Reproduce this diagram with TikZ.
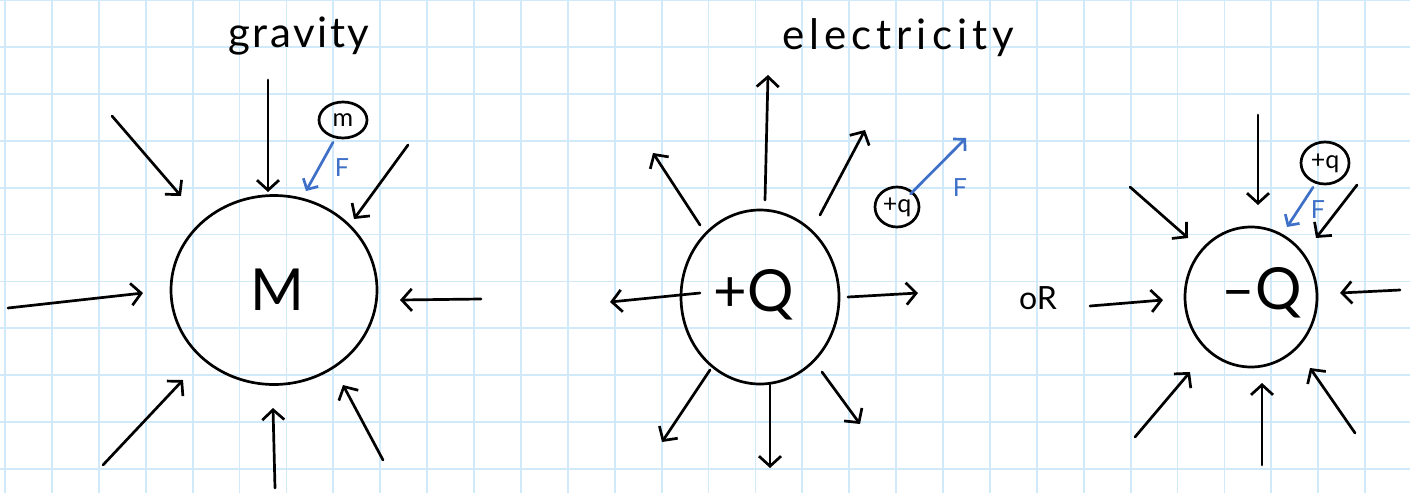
\documentclass[tikz,border=0pt]{standalone}
\usepackage{fontspec}
\setmainfont{Lato}
\usetikzlibrary{arrows.meta,shapes.geometric}
\definecolor{gridblue}{RGB}{208,234,250}
\definecolor{forceblue}{RGB}{62,112,200}
\tikzset{
  x=1pt, y=-1pt,
  ink/.style={line width=2.7pt, line cap=round, line join=round, black},
  fieldarrow/.style={ink, -{Straight Barb[length=10pt,width=22pt,line width=2.7pt]}},
  forcearrow/.style={line width=2.7pt, line cap=round, forceblue, -{Straight Barb[length=8pt,width=17pt,line width=2.7pt]}},
  bigbody/.style={ink, draw, ellipse, inner sep=0pt},
  smallbody/.style={ink, draw, ellipse, inner sep=0pt, font=\fontsize{25}{27}\selectfont},
  bodylabel/.style={font=\fontsize{58}{60}\selectfont},
  title/.style={inner sep=0pt},
  flabel/.style={text=forceblue, font=\fontsize{25}{27}\selectfont, inner sep=0pt}
}
\begin{document}
\begin{tikzpicture}
\useasboundingbox (0,0) rectangle (1410,493);
\fill[white] (0,0) rectangle (1410,493);
% grid
\foreach \i in {0,...,30} {\draw[gridblue, line width=1.8pt] ({5+46.9*\i},0) -- ({5+46.9*\i},493);}
\foreach \j in {0,...,10} {\draw[gridblue, line width=1.8pt] (0,{46.9*\j}) -- (1410,{46.9*\j});}

% ===== gravity =====
\node[title, font=\fontsize{42}{46}\selectfont\addfontfeatures{LetterSpace=6}] (tgrav) at (299,36) {gravity};
\node[bigbody, minimum width=206pt, minimum height=189pt] (M) at (274,290) {};
\node[bodylabel] (Mlab) at (277,290) {M};
\node[smallbody, minimum width=48pt, minimum height=36pt] (m) at (343,120) {m};
\coordinate (mF) at (306,191);
\draw[forcearrow] (m.south) ++(-10,3) coordinate (mS) -- (mF);
\node[flabel] (Fm) at (342,168) {F};

\coordinate (g1a) at (8,308);   \coordinate (g1b) at (143,293);
\coordinate (g2a) at (481,299); \coordinate (g2b) at (400,300);
\coordinate (g3a) at (268,80);  \coordinate (g3b) at (268,192);
\coordinate (g4a) at (112,116); \coordinate (g4b) at (181,196);
\coordinate (g5a) at (408,145); \coordinate (g5b) at (354,219);
\coordinate (g6a) at (103,465); \coordinate (g6b) at (183,380);
\coordinate (g7a) at (275,488); \coordinate (g7b) at (273,408);
\coordinate (g8a) at (383,460); \coordinate (g8b) at (343,385);
\foreach \k in {1,...,8} {\draw[fieldarrow] (g\k a) -- (g\k b);}

% ===== electricity =====
\node[title, font=\fontsize{42}{46}\selectfont\addfontfeatures{LetterSpace=12}] (telec) at (898,38) {electricity};
\node[bigbody, minimum width=158pt, minimum height=174pt] (Qp) at (760,297) {};
\node[bodylabel] (Qplab) at (754,295) {+Q};
\node[smallbody, minimum width=44pt, minimum height=40pt] (qp) at (897,207) {+q};
\coordinate (qpF) at (966,138);
\draw[forcearrow] (qp.north east) ++(-3,2) coordinate (qpS) -- (qpF);
\node[flabel] (Fqp) at (960,188) {F};

\coordinate (e1a) at (765,200); \coordinate (e1b) at (768,75);
\coordinate (e2a) at (700,225); \coordinate (e2b) at (653,153);
\coordinate (e3a) at (820,215); \coordinate (e3b) at (865,130);
\coordinate (e4a) at (700,293); \coordinate (e4b) at (610,302);
\coordinate (e5a) at (848,297); \coordinate (e5b) at (918,293);
\coordinate (e6a) at (710,370); \coordinate (e6b) at (662,442);
\coordinate (e7a) at (770,385); \coordinate (e7b) at (770,468);
\coordinate (e8a) at (822,372); \coordinate (e8b) at (860,424);
\foreach \k in {1,...,8} {\draw[fieldarrow] (e\k a) -- (e\k b);}

% ===== or: negative charge =====
\node[font=\fontsize{32}{34}\selectfont] (or) at (1038,298) {oR};
\node[bigbody, minimum width=132pt, minimum height=140pt] (Qn) at (1251,297) {};
\node[bodylabel] (Qnlab) at (1262,293) {–Q};
\node[smallbody, minimum width=48pt, minimum height=42pt] (qn) at (1325,163) {+q};
\coordinate (qnF) at (1287,227);
\draw[forcearrow] (qn.south) ++(-12,2) coordinate (qnS) -- (qnF);
\node[flabel] (Fqn) at (1318,210) {F};

\coordinate (n1a) at (1090,306); \coordinate (n1b) at (1163,300);
\coordinate (n2a) at (1400,290); \coordinate (n2b) at (1340,293);
\coordinate (n3a) at (1258,115); \coordinate (n3b) at (1258,205);
\coordinate (n4a) at (1130,187); \coordinate (n4b) at (1188,238);
\coordinate (n5a) at (1357,185); \coordinate (n5b) at (1316,238);
\coordinate (n6a) at (1135,437); \coordinate (n6b) at (1190,372);
\coordinate (n7a) at (1262,465); \coordinate (n7b) at (1262,383);
\coordinate (n8a) at (1355,433); \coordinate (n8b) at (1310,368);
\foreach \k in {1,...,8} {\draw[fieldarrow] (n\k a) -- (n\k b);}
\end{tikzpicture}
\end{document}
